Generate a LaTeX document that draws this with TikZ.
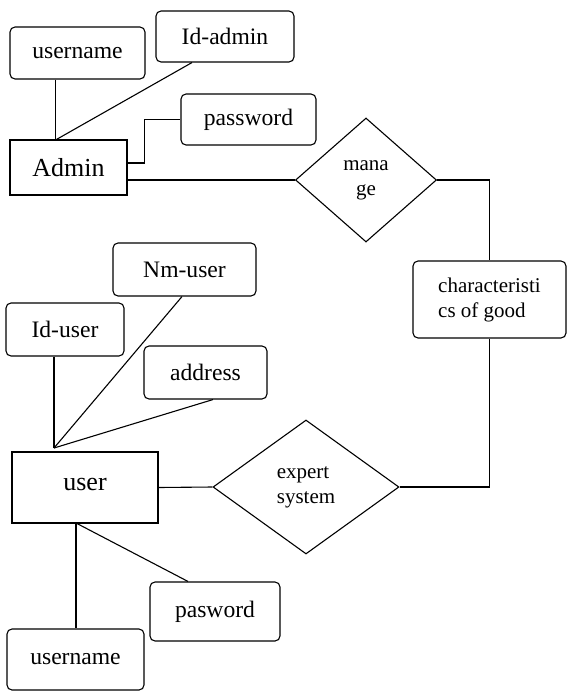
\documentclass[tikz,border=0pt]{standalone}
\usepackage{fontspec}
\setmainfont{Liberation Serif}
\usetikzlibrary{shapes.geometric}
\begin{document}
\begin{tikzpicture} [x=1pt, y=-1pt, line width=1.1pt, attr/.style ={draw, rounded corners=5pt, inner sep=0pt, font=\fontsize{23.6}{26}\selectfont}, entity/.style ={draw, inner sep=0pt, font=\fontsize{26}{28}\selectfont}, rel/.style ={draw, diamond, inner sep=0pt, align=left, font=\fontsize{21}{25}\selectfont}]
	\useasboundingbox (0,0) rectangle (567,691);
	\node[attr, minimum width=135pt, minimum height=52pt] (Uname1) at (77.5,53) {username};
	\node[attr, minimum width=138pt, minimum height=51pt] (IdAdmin) at (225,36.5) {Id-admin};
	\node[attr, minimum width=135pt, minimum height=51pt] (Pass1) at (248.5,119.5) {password};
	\node[entity, minimum width=117pt, minimum height=55pt] (Admin) at (68.5,167.5) {Admin};
	\node[rel, minimum width=141pt, minimum height=124pt, align=center] (Manage) at (366,180) {\raisebox{-3pt}{mana}\\\raisebox{-3pt}{ge}};
	\node[attr, minimum width=153pt, minimum height=77pt, align=left, font=\fontsize{21}{25}\selectfont] (Charac) at (489.5,299.5) {characteristi\\cs of good};
	\node[attr, minimum width=143pt, minimum height=53pt] (NmUser) at (184.5,269.5) {Nm-user};
	\node[attr, minimum width=118pt, minimum height=53pt] (IdUser) at (65,329.5) {Id-user};
	\node[attr, minimum width=123pt, minimum height=53pt] (Address) at (205.5,372.5) {address};
	\node[entity, minimum width=146pt, minimum height=71pt] (User) at (85,487.5) {\raisebox{7pt}{user}};
	\node[rel, minimum width=186pt, minimum height=134pt] (Expert) at (306,487) {expert\\system};
	\node[attr, minimum width=130pt, minimum height=59pt] (Pasword) at (215,611.5) {pasword};
	\node[attr, minimum width=137pt, minimum height=61pt] (Uname2) at (75.5,659.5) {username};
	\coordinate (AdminTop) at (55.5,140);
	\coordinate (UserTop) at (54,448);
	\coordinate (UserBot) at (76,523);
	\draw (Uname1.south -| AdminTop) -- (AdminTop);
	\draw ([xshift=-33pt]IdAdmin.south) -- (AdminTop);
	\draw ([yshift=4.5pt]Admin.east) -- ++(17,0) |- (Pass1.west);
	\draw (Manage.west -| Admin.east) -- (Manage.west);
	\draw (Manage.east) -| (Charac.north);
	\draw (Charac.south) |- (Expert.east);
	\draw (User.east) -- (Expert.west);
	\draw (IdUser.south -| UserTop) -- (UserTop);
	\draw ([xshift=-2.5pt]NmUser.south) -- (UserTop);
	\draw ([xshift=7.5pt]Address.south) -- (UserTop);
	\draw (UserBot) -- (Uname2.north -| UserBot);
	\draw (UserBot) -- ([xshift=-27pt]Pasword.north);
\end{tikzpicture}
\end{document}
